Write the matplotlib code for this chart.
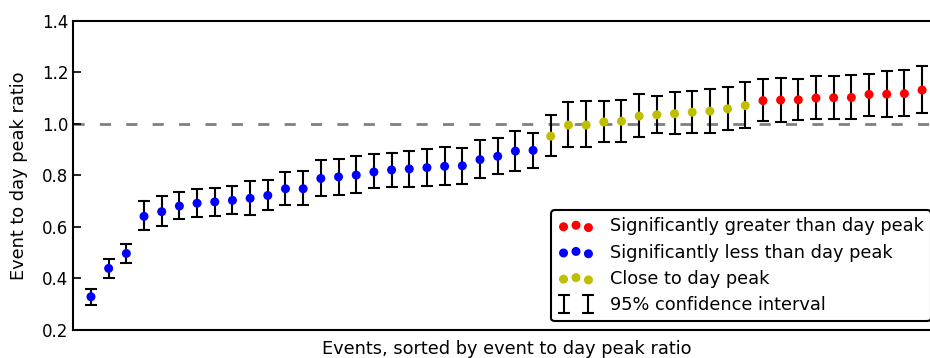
import numpy as np
import matplotlib
matplotlib.use("Agg")
import matplotlib.pyplot as plt

# event / day peak ratio, sorted, with 95% CI bounds
ratio = [0.329, 0.439, 0.497, 0.641, 0.659, 0.681, 0.692, 0.697, 0.703, 0.711,
         0.722, 0.748, 0.748, 0.788, 0.794, 0.801, 0.813, 0.821, 0.825, 0.830,
         0.835, 0.837, 0.861, 0.874, 0.894, 0.897,
         0.952, 0.995, 0.995, 1.007, 1.010, 1.030, 1.035, 1.039, 1.045, 1.049,
         1.058, 1.071,
         1.090, 1.092, 1.093, 1.100, 1.101, 1.102, 1.114, 1.115, 1.117, 1.131]
upper = [0.360, 0.476, 0.534, 0.699, 0.719, 0.736, 0.746, 0.752, 0.759, 0.779,
         0.781, 0.813, 0.817, 0.858, 0.865, 0.875, 0.883, 0.887, 0.896, 0.902,
         0.910, 0.907, 0.937, 0.946, 0.973, 0.966,
         1.034, 1.084, 1.087, 1.089, 1.092, 1.115, 1.109, 1.123, 1.128, 1.136,
         1.143, 1.163,
         1.175, 1.179, 1.174, 1.186, 1.186, 1.189, 1.195, 1.203, 1.208, 1.226]
lower = [0.297, 0.403, 0.459, 0.587, 0.603, 0.631, 0.639, 0.641, 0.649, 0.645,
         0.664, 0.686, 0.684, 0.720, 0.725, 0.732, 0.749, 0.756, 0.756, 0.759,
         0.761, 0.766, 0.788, 0.805, 0.817, 0.829,
         0.875, 0.911, 0.911, 0.928, 0.930, 0.949, 0.965, 0.960, 0.965, 0.963,
         0.976, 0.985,
         1.010, 1.007, 1.014, 1.017, 1.019, 1.020, 1.031, 1.027, 1.030, 1.043]
# 0 = less than day peak, 1 = close, 2 = greater
group = [0]*26 + [1]*12 + [2]*10

ratio = np.array(ratio)
upper = np.array(upper)
lower = np.array(lower)
group = np.array(group)
x = np.arange(len(ratio))

plt.rcParams['font.family'] = 'DejaVu Sans'
plt.rcParams['font.size'] = 12
plt.rcParams['lines.scale_dashes'] = False

fig = plt.figure(figsize=(9.3, 3.58), dpi=100)
ax = fig.add_axes([0.0788, 0.0782, 0.9317, 0.864])

ax.axhline(1.0, color='#808080', lw=2, dashes=(8, 11), zorder=1)

eb = ax.errorbar(x, ratio, yerr=[ratio - lower, upper - ratio], fmt='none',
                 ecolor='k', elinewidth=1.5, capsize=4, capthick=1.5, zorder=2,
                 label='95% confidence interval')

cols = {2: 'red', 0: 'blue', 1: 'y'}
labs = {2: 'Significantly greater than day peak',
        0: 'Significantly less than day peak',
        1: 'Close to day peak'}
handles = []
for g in [2, 0, 1]:
    m = group == g
    h = ax.scatter(x[m], ratio[m], s=42, c=cols[g], edgecolors='none',
                   zorder=3, label=labs[g])
    handles.append(h)
handles.append(eb)

ax.set_xlim(-1, 48)
ax.set_ylim(0.2, 1.4)
ax.set_yticks(np.arange(0.2, 1.41, 0.2))
ax.set_yticklabels(['%.1f' % v for v in np.arange(0.2, 1.41, 0.2)])
ax.set_xticks([])
ax.tick_params(axis='y', direction='in', length=6, width=1.2, right=True)
for s in ax.spines.values():
    s.set_linewidth(1.5)

ax.set_xlabel('Events, sorted by event to day peak ratio', fontsize=12.8,
              labelpad=7)
ax.set_ylabel('Event to day peak ratio', fontsize=12.8, labelpad=10)

leg = ax.legend(handles=handles, loc='lower right', scatterpoints=3,
                numpoints=2, fontsize=12.8, labelspacing=0.46,
                handletextpad=0.9, fancybox=True, framealpha=1)
leg.get_frame().set_edgecolor('k')
leg.get_frame().set_linewidth(1.5)

fig.savefig('out.png', dpi=100)
